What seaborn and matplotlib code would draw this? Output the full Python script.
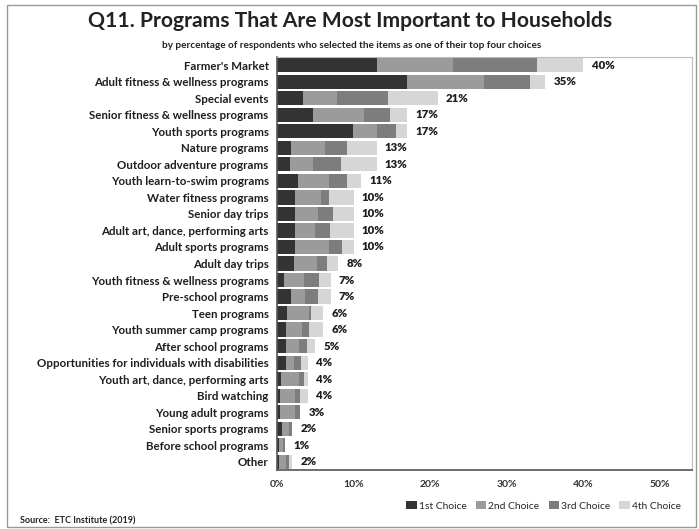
import numpy as np
import pandas as pd
import matplotlib
matplotlib.use("Agg")
import matplotlib.pyplot as plt
from matplotlib.patches import Patch, Rectangle
import seaborn as sns

sns.set_theme(style="white")
plt.rcParams["font.family"] = ["Lato", "DejaVu Sans"]

categories = [
    "Farmer's Market", "Adult fitness & wellness programs", "Special events",
    "Senior fitness & wellness programs", "Youth sports programs", "Nature programs",
    "Outdoor adventure programs", "Youth learn-to-swim programs", "Water fitness programs",
    "Senior day trips", "Adult art, dance, performing arts", "Adult sports programs",
    "Adult day trips", "Youth fitness & wellness programs", "Pre-school programs",
    "Teen programs", "Youth summer camp programs", "After school programs",
    "Opportunities for individuals with disabilities", "Youth art, dance, performing arts",
    "Bird watching", "Young adult programs", "Senior sports programs",
    "Before school programs", "Other",
]
first_choice = [13.0, 17.0, 3.4, 4.7, 9.9, 1.8, 1.7, 2.7, 2.4, 2.3, 2.3, 2.3, 2.2,
                0.9, 1.8, 1.3, 1.2, 1.2, 1.2, 0.5, 0.4, 0.4, 0.6, 0.2, 0.3]
second_choice = [10.0, 10.0, 4.4, 6.6, 3.1, 4.5, 3.0, 4.1, 3.4, 3.0, 2.6, 4.5, 3.0,
                 2.6, 1.8, 2.9, 2.0, 1.7, 1.0, 2.4, 2.0, 2.0, 1.0, 0.6, 0.9]
third_choice = [11.0, 6.0, 6.7, 3.5, 2.5, 2.9, 3.6, 2.4, 1.0, 2.0, 2.0, 1.7, 1.3,
                2.0, 1.7, 0.3, 1.0, 1.0, 0.9, 0.6, 0.6, 0.6, 0.4, 0.2, 0.4]
fourth_choice = [6.0, 2.0, 6.5, 2.2, 1.5, 3.8, 4.7, 1.8, 3.2, 2.7, 3.1, 1.5, 1.5,
                 1.5, 1.7, 1.5, 1.8, 1.1, 0.9, 0.5, 1.0, 0.0, 0.0, 0.0, 0.4]
series_names = ["1st Choice", "2nd Choice", "3rd Choice", "4th Choice"]
x_ticks = [0, 10, 20, 30, 40, 50]

colors = ["#333333", "#9b9b9b", "#7d7d7d", "#d6d6d6"]

parts = np.array([first_choice, second_choice, third_choice, fourth_choice])
cumulative = np.cumsum(parts, axis=0)
df = pd.DataFrame({"category": categories})
for name, cum in zip(series_names, cumulative):
    df[name] = cum

fig = plt.figure(figsize=(6.99, 5.29), dpi=100)
ax = fig.add_axes([277 / 699, 1 - 470 / 529, 415 / 699, 413 / 529])

# stacked bars: draw cumulative totals from the outermost layer inwards
for name, col in reversed(list(zip(series_names, colors))):
    sns.barplot(data=df, x=name, y="category", color=col, orient="h",
                width=0.86, ax=ax, saturation=1, linewidth=0)

totals = cumulative[-1]
for i, t in enumerate(totals):
    ax.annotate(f"{t:.0f}%", xy=(t, i), xytext=(6, 0), textcoords="offset points",
                va="center", ha="left", fontsize=8.2, fontweight="heavy",
                color="#1e1e1e")

ax.set_xlim(0, 54.2)
ax.set_ylim(len(categories) - 0.5, -0.5)
ax.set_xticks(x_ticks)
ax.set_xticklabels([f"{v}%" for v in x_ticks], fontsize=7.5, fontweight="bold",
                   color="#333333")
ax.set_yticks(range(len(categories)))
ax.set_yticklabels(categories, fontsize=8.3, fontweight="bold", color="#1e1e1e")
ax.set_xlabel("")
ax.set_ylabel("")
ax.tick_params(axis="both", length=0, pad=4)
ax.tick_params(axis="y", pad=6)
ax.tick_params(axis="x", pad=7)
ax.set_yticks(np.arange(-0.5, len(categories), 1), minor=True)
ax.tick_params(axis="y", which="minor", length=3, width=0.8, color="#444444", direction="out")

for side in ["top", "right"]:
    ax.spines[side].set_color("#bbbbbb")
    ax.spines[side].set_linewidth(0.8)
for side in ["left", "bottom"]:
    ax.spines[side].set_color("#555555")
    ax.spines[side].set_linewidth(1.2)

handles = [Patch(facecolor=c, edgecolor="none", label=n) for n, c in zip(series_names, colors)]
fig.legend(handles=handles, loc="center right", bbox_to_anchor=(690 / 699, 1 - 506 / 529),
           ncol=4, frameon=False, fontsize=7.4, handlelength=1.0, handleheight=0.8,
           handletextpad=0.2, columnspacing=0.9)

fig.text(350 / 699, 1 - 21 / 529, "Q11. Programs That Are Most Important to Households",
         ha="center", va="center", fontsize=15.2, fontweight="bold", color="#222222")
fig.text(352 / 699, 1 - 45 / 529,
         "by percentage of respondents who selected the items as one of their top four choices",
         ha="center", va="center", fontsize=7.2, fontweight="bold", color="#222222")
fig.text(20 / 699, 1 - 521 / 529, "Source:  ETC Institute (2019)", ha="left", va="center",
         fontsize=6.5, fontweight="bold", color="#222222")

fig.patches.append(Rectangle((7 / 699, 2 / 529), 689 / 699, 522 / 529, transform=fig.transFigure,
                             fill=False, edgecolor="#999999", linewidth=1.0))

fig.savefig("out.png", dpi=100)
